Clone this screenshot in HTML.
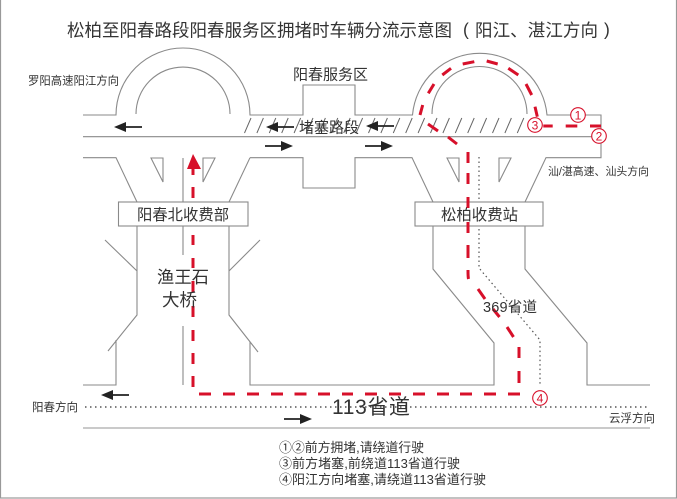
<!DOCTYPE html>
<html><head><meta charset="utf-8"><style>
html,body{margin:0;padding:0;background:#fff}
svg{display:block}
text{font-family:"Liberation Sans","Noto Sans CJK SC",sans-serif;fill:#333}
.g{fill:none;stroke:#8a8a8a;stroke-width:1.1}
.r{fill:none;stroke:#d7102a;stroke-width:3}
.k{stroke:#222;stroke-width:1.8;fill:none}
.h{fill:#222}
</style></head><body>
<svg width="677" height="499" viewBox="0 0 677 499" xmlns="http://www.w3.org/2000/svg">
<rect width="677" height="499" fill="#fff"/>
<rect x="0.5" y="-2" width="676" height="500" fill="none" stroke="#999" stroke-width="1.2"/>

<text x="67" y="36.5" font-size="17.5" textLength="385">松柏至阳春路段阳春服务区拥堵时车辆分流示意图</text>
<text x="463" y="35.5" font-size="17.5">(</text>
<text x="475" y="36.5" font-size="17.5" textLength="123">阳江、湛江方向</text>
<text x="604" y="35.5" font-size="17.5">)</text>

<!-- hatching -->
<path fill="none" stroke="#666" stroke-width="1" d="M244.500 133l6.500-15m5.900 15l6.500-15m5.900 15l6.500-15m5.900 15l6.500-15m5.900 15l6.500-15m5.900 15l6.500-15m5.900 15l6.500-15m5.900 15l6.500-15m5.900 15l6.500-15m5.900 15l6.500-15m5.900 15l6.500-15m5.900 15l6.500-15m5.900 15l6.500-15m5.900 15l6.500-15m5.900 15l6.500-15m5.900 15l6.500-15m5.900 15l6.500-15m5.900 15l6.500-15m5.900 15l6.500-15m5.900 15l6.500-15m5.900 15l6.500-15m5.900 15l6.500-15m5.900 15l6.500-15"/>

<!-- roads -->
<g class="g">
<path d="M83 115H116A67 67 0 0 1 250 115H303V85H355V115H412.500A67.500 67.500 0 0 1 547 115H601V157.700H546L525 202"/>
<path d="M136 114A47 47 0 0 1 230 114"/>
<path d="M432 114A47.500 47.500 0 0 1 527 114"/>
<path d="M83 136.700H601"/>
<path d="M83 157.700H116L137 202M250 157.700H303V188H355V157.700H412L433 202"/>
<path d="M250 157.700L229 202"/>
<path d="M151 158H163V182ZM215 158H203V182ZM447 158H459V182ZM511 158H499V182Z"/>
<path d="M183 158V202M183 226V255M183 326V385"/>
<path d="M137 226V315L108 351M105 240L137 271M116 340V385H83"/>
<path d="M229 226V315L258 352M260 240L229 271M250 342V385H494V343L433 269V226"/>
<path d="M525 226V269L587 343V385H650"/>
</g>
<path d="M83 428H650" stroke="#aaa" stroke-width="1.3" fill="none"/>
<path d="M85 407H650" stroke="#555" stroke-width="1.4" stroke-dasharray="1.500 3.500" fill="none"/>
<path d="M479 157V268L540 340V385" stroke="#555" stroke-width="1.200" stroke-dasharray="1.500 3" fill="none"/>

<!-- red route under N box -->
<path class="r" d="M193 168V175M193 187V198M193 235V245M193 258V268M193 281V292M193 306V317M193 330V341M193 353V364M193 376V387"/>
<path d="M193 154L201 169H187Z" style="fill:#d7102a"/>

<!-- boxes -->
<rect x="118.500" y="202" width="129.500" height="24" fill="#fff" stroke="#8a8a8a" stroke-width="1.1"/>
<rect x="415" y="202" width="128" height="24" fill="#fff" stroke="#8a8a8a" stroke-width="1.1"/>
<text x="137" y="220" font-size="15.300" textLength="92">阳春北收费部</text>
<text x="441" y="220" font-size="15.400" textLength="77">松柏收费站</text>

<!-- red route -->
<path class="r" d="M199 394H211M223 394H235M247 394H259M271 394H283M294.500 394H306.500M318 394H330M342 394H353M365 394H377M389 394H401M413 394H425M437 394H449M460 394H472M484 394H496M508 394H520"/>
<path class="r" d="M519 383V371M519 358V347M513.500 337L507 327M499.500 317L493 309M485 299L478 289M468.500 279Q468 277 468 270M468 258V245M468 233V222M468 208V197M468 184V173M468 163V152M457 144L448 137M438 131L428 124"/>
<path class="r" d="M420 115L422.700 105M428.300 93.300L434 84M442.300 75L451 68.300M462.700 64L474.300 61.700M486.700 61L497.700 64M508.300 68.300L518.300 75M526 84L531.700 95M535 106.700L537.300 116.700M543.300 126H552.700M565.700 126H577.300M590 126H601"/>

<!-- arrows -->
<g>
<path class="k" d="M120 127H142M272 127H294M372 126H394M107 395H129M265 146H288M365 146H388M284 419H307"/>
<path class="h" d="M114 127L126 122V132ZM266 127L278 122V132ZM366 126L378 121V131ZM101 395L113 390V400ZM293 146L281 141V151ZM393 146L381 141V151ZM312 419L300 414V424Z"/>
</g>

<!-- circled numbers -->
<g fill="#fff" stroke="#d7102a" stroke-width="1.1">
<circle cx="578" cy="115" r="7.300"/><circle cx="599" cy="136" r="7.300"/><circle cx="535" cy="125" r="7.300"/><circle cx="540" cy="398" r="7.300"/>
</g>
<g font-size="12" text-anchor="middle">
<text x="578" y="119.300" style="fill:#d7102a">1</text><text x="599" y="140.300" style="fill:#d7102a">2</text><text x="535" y="129.300" style="fill:#d7102a">3</text><text x="540" y="402.300" style="fill:#d7102a">4</text>
</g>

<!-- labels -->
<text x="28" y="84.500" font-size="11.400" textLength="91">罗阳高速阳江方向</text>
<text x="293" y="79.500" font-size="15" textLength="75">阳春服务区</text>
<text x="299" y="132.500" font-size="15" textLength="60">堵塞路段</text>
<text x="548" y="175" font-size="10.900" textLength="101">汕/湛高速、汕头方向</text>
<text x="157" y="283" font-size="17.300" textLength="52">渔王石</text>
<text x="162" y="306" font-size="17.500" textLength="35">大桥</text>
<text x="483" y="312" font-size="14.500" textLength="54">369省道</text>
<text x="32" y="411" font-size="11.500" textLength="46">阳春方向</text>
<text x="609" y="422" font-size="11.500" textLength="46">云浮方向</text>
<text x="332" y="414" font-size="21" textLength="78">113省道</text>
<text x="279" y="452" font-size="12.900" textLength="145">①②前方拥堵,请绕道行驶</text>
<text x="279" y="468" font-size="13" textLength="181">③前方堵塞,前绕道113省道行驶</text>
<text x="279" y="484" font-size="13" textLength="207">④阳江方向堵塞,请绕道113省道行驶</text>
</svg>
</body></html>
